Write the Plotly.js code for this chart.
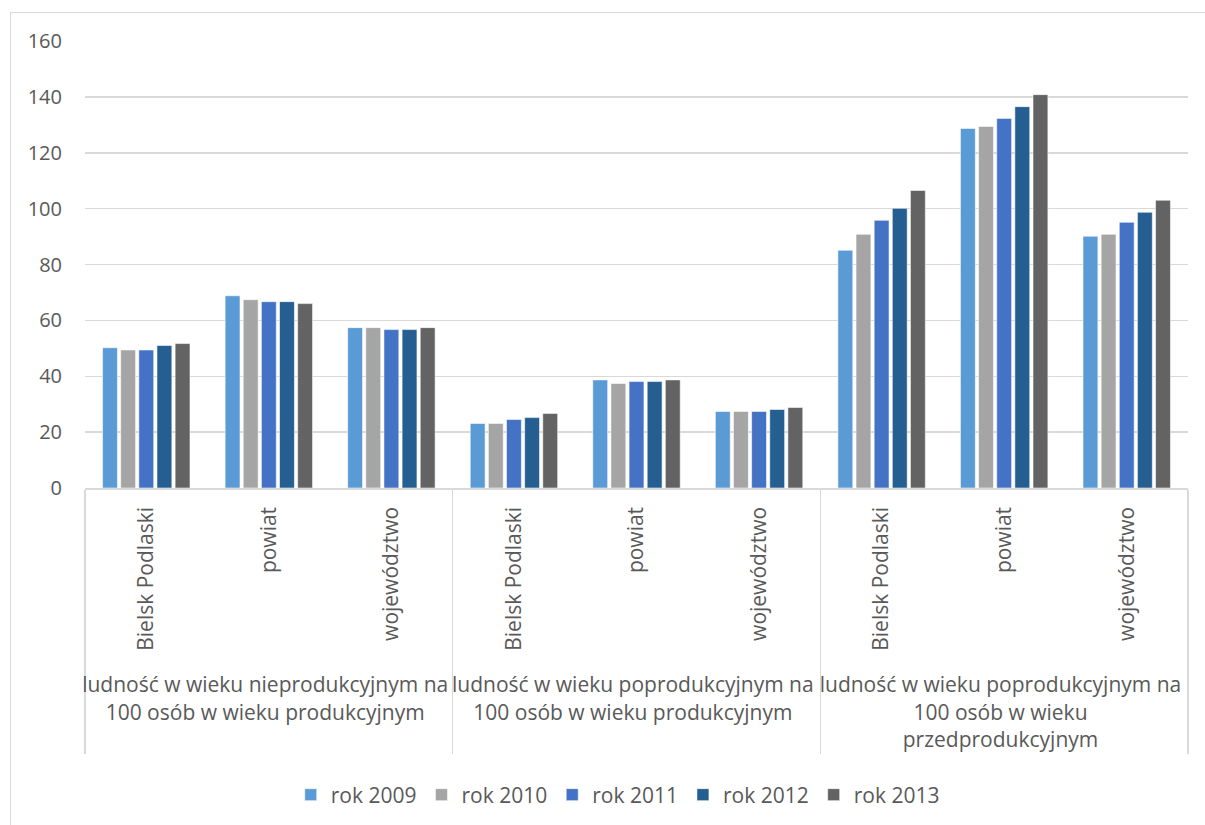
<!DOCTYPE html>
<html>
<head>
<meta charset="utf-8">
<script src="https://cdn.plot.ly/plotly-3.0.1.min.js"></script>
<style>
html,body{margin:0;padding:0;background:#fff;}
#frame{position:absolute;left:10px;top:12px;width:1200px;height:820px;border:1.5px solid #d9d9d9;box-sizing:border-box;}
#chart{position:absolute;left:0;top:0;width:1205px;height:825px;}
</style>
</head>
<body>
<div id="frame"></div>
<div id="chart"></div>
<script>
const groupLabels = [
  "ludność w wieku nieprodukcyjnym na<br>100 osób w wieku produkcyjnym",
  "ludność w wieku poprodukcyjnym na<br>100 osób w wieku produkcyjnym",
  "ludność w wieku poprodukcyjnym na<br>100 osób w wieku<br>przedprodukcyjnym"
];
const units = ["Bielsk Podlaski", "powiat", "województwo"];
const seriesNames = ["rok 2009", "rok 2010", "rok 2011", "rok 2012", "rok 2013"];
const seriesColors = ["#5B9BD5", "#A5A5A5", "#4472C4", "#255E91", "#636363"];
const rok2009 = [50.2, 68.8, 57.4, 23.1, 38.7, 27.4, 85.1, 128.7, 90.1];
const rok2010 = [49.4, 67.4, 57.4, 23.1, 37.4, 27.4, 90.8, 129.4, 90.8];
const rok2011 = [49.4, 66.7, 56.7, 24.5, 38.1, 27.4, 95.8, 132.3, 95.1];
const rok2012 = [51.0, 66.7, 56.7, 25.2, 38.1, 28.1, 100.1, 136.5, 98.7];
const rok2013 = [51.7, 66.0, 57.4, 26.7, 38.7, 28.8, 106.5, 140.8, 103.0];
const seriesValues = [rok2009, rok2010, rok2011, rok2012, rok2013];

// leading non-breaking spaces only pad the rotated label box (pushes group labels lower)
const PAD = "\u00A0\u00A0";
const outer = [], inner = [];
groupLabels.forEach(g => units.forEach(u => { outer.push(g); inner.push(PAD + u); }));

const FONT = "Open Sans, Lato, sans-serif";
const traces = seriesNames.map((n, i) => ({
  type: "bar",
  name: n,
  x: [outer, inner],
  y: seriesValues[i],
  marker: {color: seriesColors[i], line: {color: "rgba(255,255,255,0.55)", width: 1}},
  hoverinfo: "y+name"
}));

const layout = {
  width: 1205, height: 825,
  margin: {l: 85, r: 17, t: 41, b: 336},
  paper_bgcolor: "rgba(0,0,0,0)",
  plot_bgcolor: "rgba(0,0,0,0)",
  barmode: "group",
  bargap: 0.26,
  bargroupgap: 0.18,
  font: {family: FONT, color: "#595959", size: 21},
  xaxis: {
    type: "multicategory",
    tickangle: -90,
    tickfont: {size: 21, color: "#595959"},
    ticklabelstandoff: 9,
    showline: true, linecolor: "#d9d9d9", linewidth: 1.5,
    showdividers: true, dividercolor: "#d9d9d9", dividerwidth: 1.5,
    ticks: "", showgrid: false
  },
  yaxis: {
    range: [0, 160], dtick: 20, tick0: 0,
    showgrid: true, gridcolor: "#d9d9d9", gridwidth: 1.5,
    zeroline: false, showline: false,
    ticks: "", ticklabelstandoff: 22,
    tickfont: {size: 20, color: "#595959"}
  },
  showlegend: true,
  legend: {
    orientation: "h", x: 0.483, xanchor: "center", y: -0.683, yanchor: "middle",
    font: {size: 21, color: "#595959"},
    itemwidth: 30, traceorder: "normal"
  }
};

Plotly.newPlot("chart", traces, layout, {displayModeBar: false, staticPlot: true});
</script>
</body>
</html>
